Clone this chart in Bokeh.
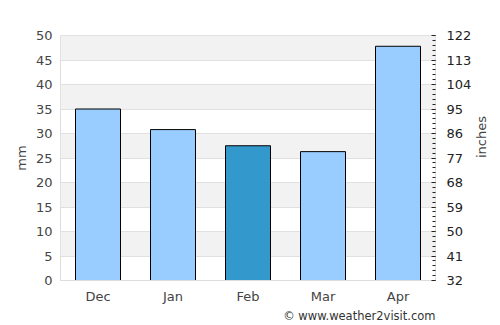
import math
from bokeh.plotting import figure
from bokeh.models import (ColumnDataSource, LinearAxis, Range1d, FixedTicker, Title)
from bokeh.embed import file_html
from bokeh.resources import INLINE

months = ["Dec", "Jan", "Feb", "Mar", "Apr"]
rain_mm = [35.0, 30.8, 27.5, 26.3, 47.8]
colors = ["#99ccff", "#99ccff", "#3399cc", "#99ccff", "#99ccff"]
mm_ticks = [0, 5, 10, 15, 20, 25, 30, 35, 40, 45, 50]
inch_ticks = [32, 41, 50, 59, 68, 77, 86, 95, 104, 113, 122]

FONT = "DejaVu Sans"
TXT = "#444444"

src = ColumnDataSource(dict(m=months, v=rain_mm, c=colors))

p = figure(width=500, height=325, x_range=months, y_range=Range1d(0, 50),
           output_backend="svg", toolbar_location=None,
           min_border_left=60, min_border_right=65, min_border_top=35,
           min_border_bottom=45)
p.outline_line_color = "#dddddd"
p.background_fill_color = "white"
p.border_fill_color = "white"

p.vbar(x="m", top="v", width=0.6, source=src, fill_color="c",
       line_color="black", line_width=1)

p.xgrid.grid_line_color = None
p.ygrid.ticker = FixedTicker(ticks=mm_ticks)
p.ygrid.grid_line_color = "#e0e0e0"
p.ygrid.band_fill_color = "#f2f2f2"
p.ygrid.band_fill_alpha = 1.0

ya = p.yaxis[0]
ya.ticker = FixedTicker(ticks=mm_ticks)
ya.axis_label = "mm"
ya.axis_line_color = None
ya.major_tick_line_color = None
ya.minor_tick_line_color = None
ya.major_tick_in = 0
ya.major_tick_out = 0
ya.minor_tick_in = 0
ya.minor_tick_out = 0
ya.major_label_text_font = FONT
ya.major_label_text_font_size = "13px"
ya.major_label_text_color = TXT
ya.axis_label_text_font = FONT
ya.axis_label_text_font_size = "13px"
ya.axis_label_text_font_style = "normal"
ya.axis_label_text_color = TXT
ya.major_label_standoff = 8
ya.axis_label_standoff = 4

xa = p.xaxis[0]
xa.axis_line_color = "#dddddd"
xa.major_tick_line_color = None
xa.minor_tick_line_color = None
xa.major_tick_in = 0
xa.major_tick_out = 0
xa.major_label_text_font = FONT
xa.major_label_text_font_size = "13px"
xa.major_label_text_color = TXT
xa.major_label_standoff = 8

p.extra_y_ranges = {"in": Range1d(inch_ticks[0], inch_ticks[-1])}
step = (inch_ticks[1] - inch_ticks[0]) / 5
minor = [inch_ticks[0] + k * step for k in range(5 * (len(inch_ticks) - 1) + 1)]
ra = LinearAxis(y_range_name="in", ticker=FixedTicker(ticks=inch_ticks, minor_ticks=minor))
ra.axis_label = "inches"
ra.axis_label_orientation = math.pi / 2
ra.axis_line_color = None
ra.major_tick_line_color = "#222222"
ra.major_tick_in = 4
ra.major_tick_out = 0
ra.minor_tick_line_color = "#222222"
ra.minor_tick_in = 3
ra.minor_tick_out = 0
ra.major_label_text_font = FONT
ra.major_label_text_font_size = "13px"
ra.major_label_text_color = "#222222"
ra.axis_label_text_font = FONT
ra.axis_label_text_font_size = "13px"
ra.axis_label_text_font_style = "normal"
ra.axis_label_text_color = TXT
ra.major_label_standoff = 11
ra.axis_label_standoff = 7
p.add_layout(ra, "right")

foot = Title(text="© www.weather2visit.com", align="right",
             text_font=FONT, text_font_size="11.5px", text_color="#333333",
             text_font_style="normal", standoff=0)
p.add_layout(foot, "below")

open("out.html", "w").write(file_html(p, INLINE))
